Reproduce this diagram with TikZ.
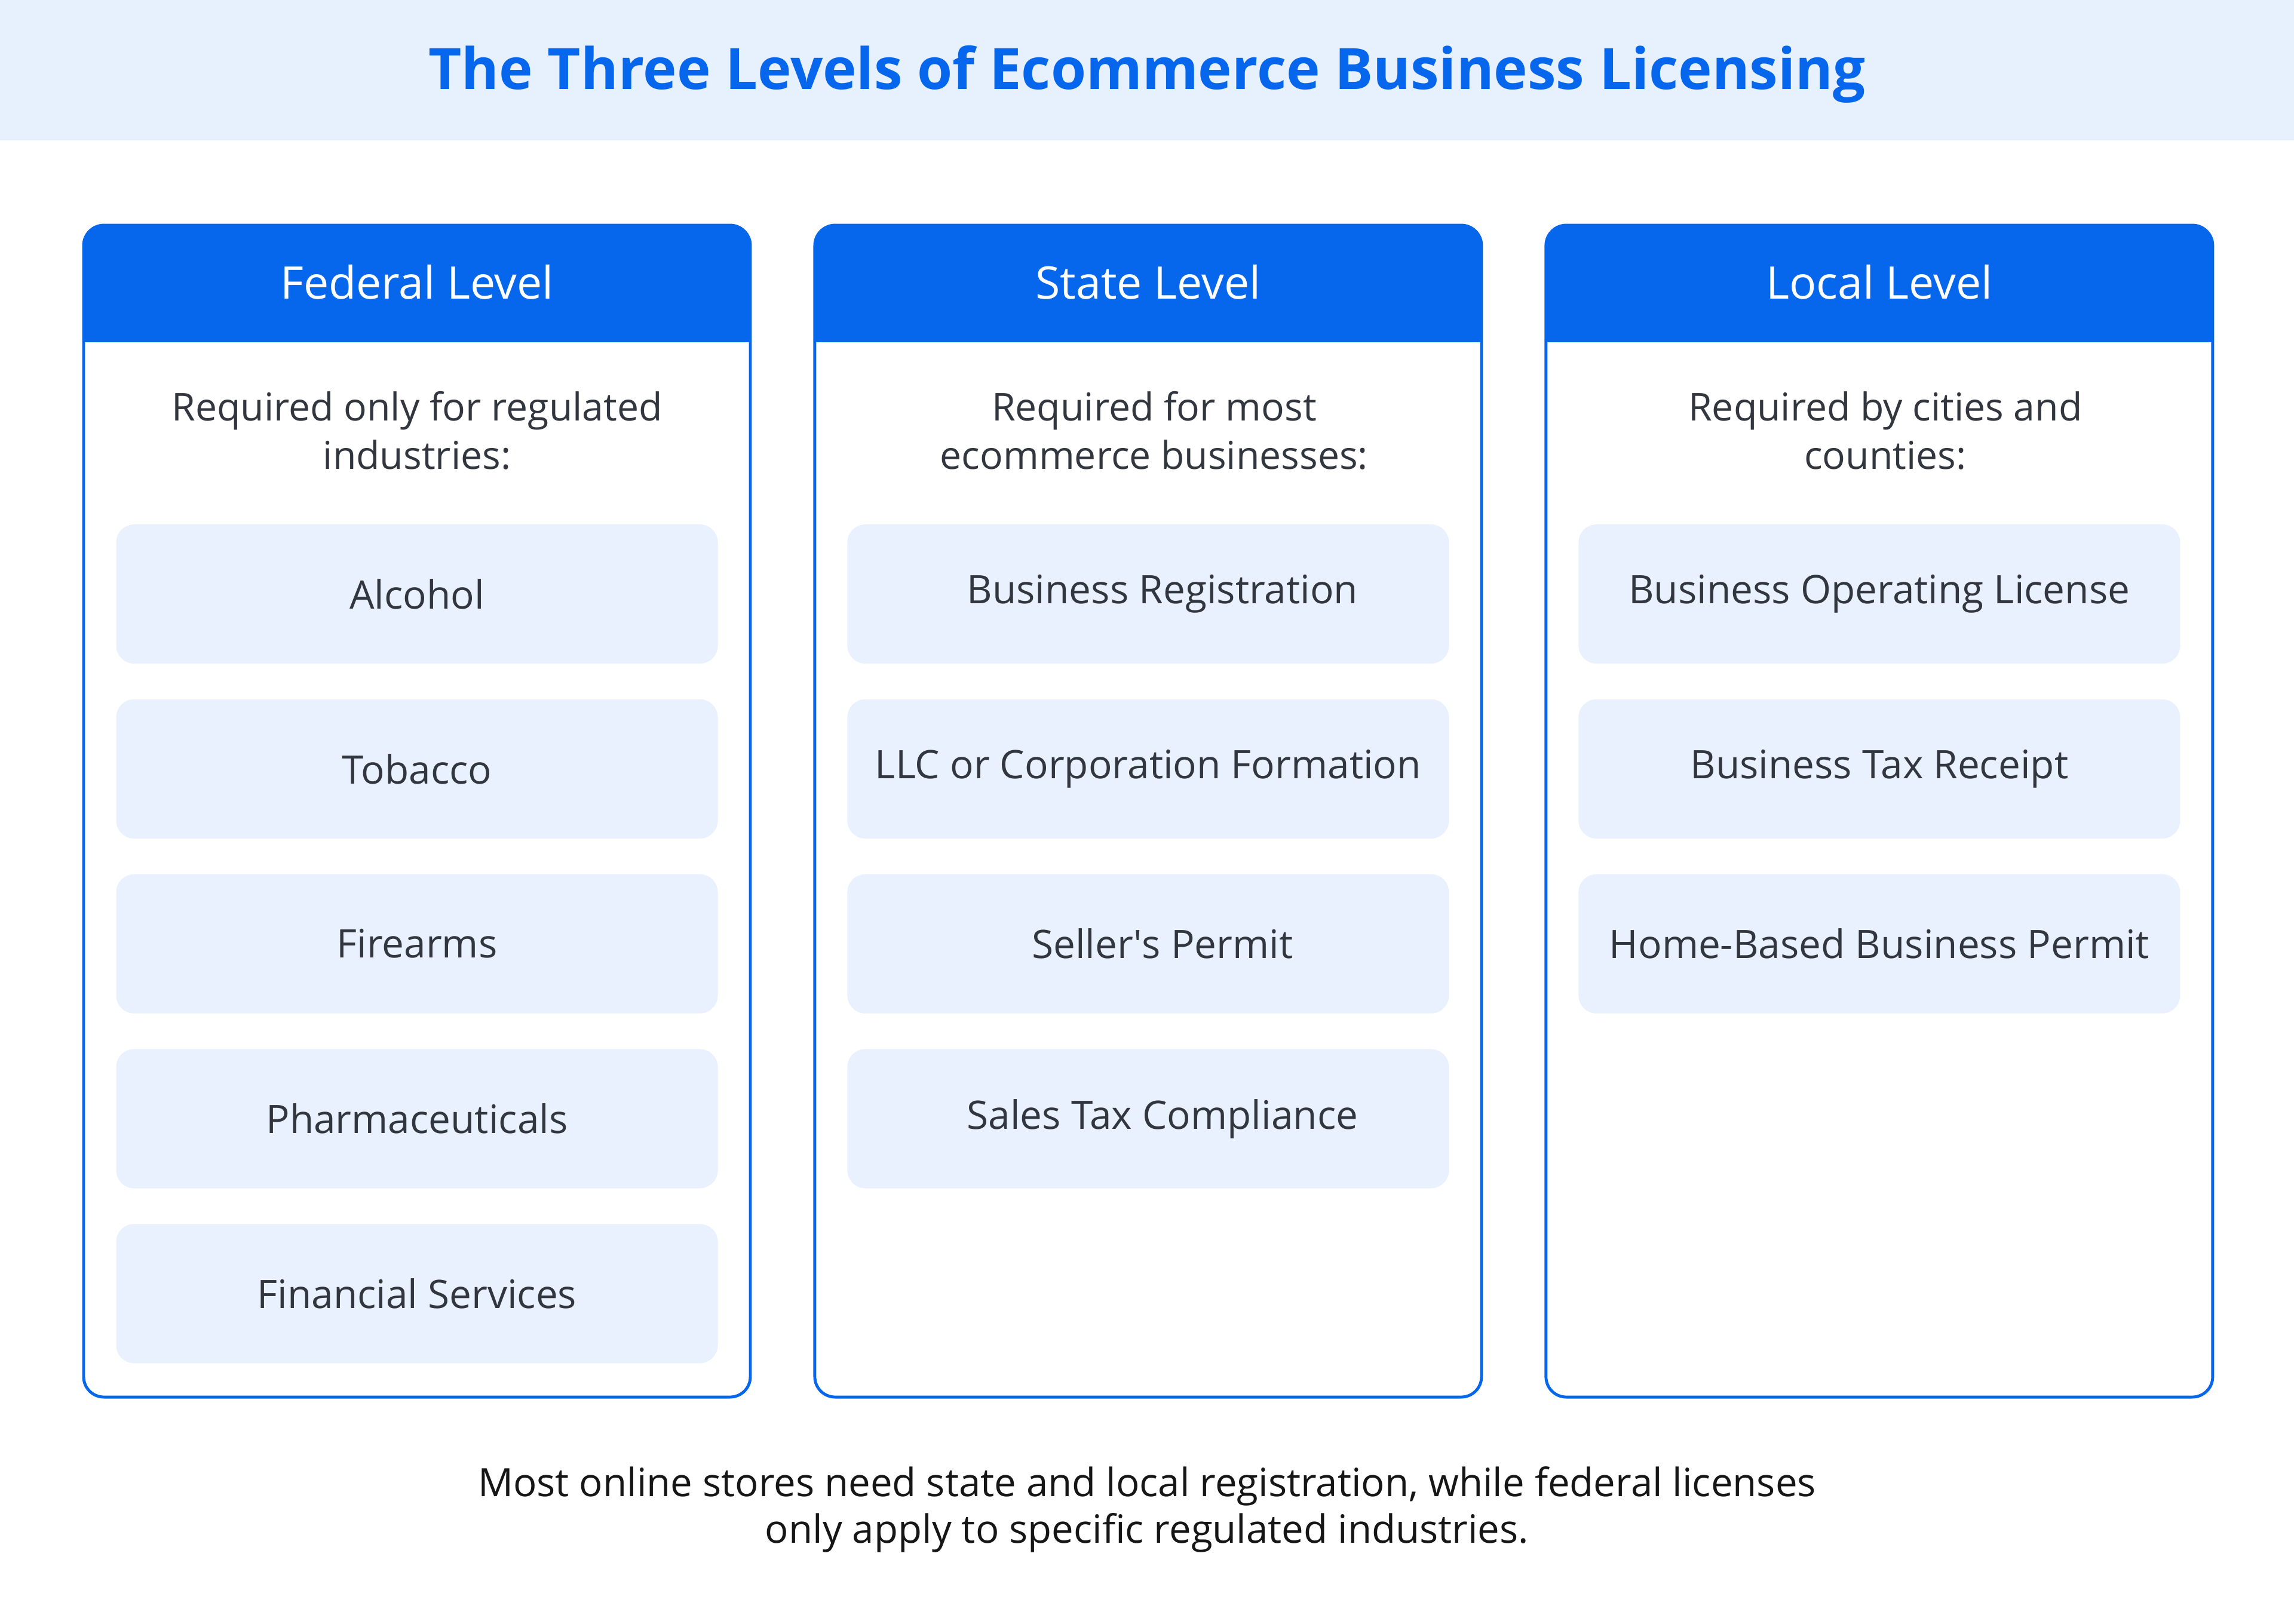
\documentclass[tikz,border=0pt]{standalone}
\usepackage{fontspec}
\setmainfont{Open Sans}
\usepackage{xcolor}
\usepackage{tikz}
\usetikzlibrary{positioning}
\definecolor{lvlblue}{HTML}{0767EC}
\definecolor{bandbg}{HTML}{E7F0FD}
\definecolor{itembg}{HTML}{E8F1FD}
\definecolor{ink}{HTML}{32373F}
\definecolor{noteink}{HTML}{161616}
\tikzset{
  lvlcard/.style={rectangle, rounded corners=0.34cm, draw=lvlblue, line width=1.4pt, fill=white, minimum width=11.16cm, minimum height=19.62cm, inner sep=0pt,
    path picture={\fill[lvlblue, sharp corners] (path picture bounding box.north west) rectangle ([yshift=-1.96cm]path picture bounding box.north east);}},
  lvlhead/.style={text=white, font=\fontsize{21.4}{25}\selectfont},
  intro/.style={text=ink, align=center, font=\fontsize{18.3}{23}\selectfont},
  licbox/.style={rectangle, rounded corners=0.3cm, fill=itembg, minimum width=10.07cm, minimum height=2.33cm, text=ink, font=\fontsize{18.7}{22}\selectfont},
}

\begin{document}
\begin{tikzpicture}[node distance=0.584cm]
\useasboundingbox (0,0) rectangle (38.4,-27.18);
% title band
\fill[bandbg] (0,0) rectangle (38.4,-2.35);
\node[text=lvlblue, font=\fontsize{27.2}{31}\selectfont\bfseries] (ttl) at (19.2,-1.24) {The Three Levels of Ecommerce Business Licensing};

% the three level cards
\node[lvlcard] (c1) at (6.98,-13.58) {};
\node[lvlcard, right=1.03cm of c1] (c2) {};
\node[lvlcard, right=1.03cm of c2] (c3) {};
\node[lvlhead] (h1) at ([yshift=-0.98cm]c1.north) {Federal Level};
\node[lvlhead] (h2) at ([yshift=-0.98cm]c2.north) {State Level};
\node[lvlhead] (h3) at ([yshift=-0.98cm]c3.north) {Local Level};
\node[intro] (i1) at ([yshift=-3.465cm]c1.north) {Required only for regulated\\industries:};
\node[intro] (i2) at ([xshift=0.1cm, yshift=-3.465cm]c2.north) {Required for most\\ecommerce businesses:};
\node[intro] (i3) at ([xshift=0.1cm, yshift=-3.465cm]c3.north) {Required by cities and\\counties:};

% federal
\node[licbox] (f1) at ([yshift=-6.2cm]c1.north) {Alcohol};
\node[licbox, below=of f1] (f2) {Tobacco};
\node[licbox, below=of f2] (f3) {Firearms};
\node[licbox, below=of f3] (f4) {Pharmaceuticals};
\node[licbox, below=of f4] (f5) {Financial Services};
% state (labels sit a little right of centre)
\node[licbox] (s1) at ([yshift=-6.2cm]c2.north) {\hspace*{0.48cm}Business Registration};
\node[licbox, below=of s1] (s2) {LLC or Corporation Formation};
\node[licbox, below=of s2] (s3) {\hspace*{0.48cm}Seller\textquotesingle s Permit};
\node[licbox, below=of s3] (s4) {\hspace*{0.48cm}Sales Tax Compliance};
% local
\node[licbox] (l1) at ([yshift=-6.2cm]c3.north) {Business Operating License};
\node[licbox, below=of l1] (l2) {Business Tax Receipt};
\node[licbox, below=of l2] (l3) {Home-Based Business Permit};

\node[text=noteink, align=center, font=\fontsize{18.6}{22.2}\selectfont] (note) at (19.2,-25.27) {Most online stores need state and local registration, while federal licenses\\only apply to specific regulated industries.};
\end{tikzpicture}
\end{document}
